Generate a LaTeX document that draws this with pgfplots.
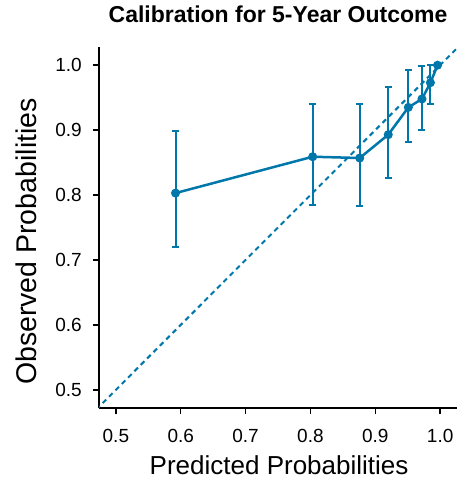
\documentclass[border=0pt]{standalone}
\usepackage{pgfplots}
\pgfplotsset{compat=1.18}
\usepackage{pgfplotstable}
\usepackage{fontspec}
\setmainfont{Liberation Sans}
\definecolor{cblue}{RGB}{0,119,170}
\pgfplotstableread{
x      y      ep     em
0.592  0.803  0.095  0.083
0.8035 0.859  0.081  0.074
0.876  0.857  0.083  0.074
0.920  0.893  0.073  0.066
0.951  0.935  0.057  0.053
0.972  0.948  0.051  0.048
0.985  0.973  0.027  0.033
0.996  1.000  0.000  0.000
}\caldata
\begin{document}
\begin{tikzpicture}
\path[use as bounding box] (-99bp,-78bp) rectangle (360bp,408bp);
\begin{axis}[
  at={(0,0)}, anchor=south west,
  scale only axis, width=358bp, height=361bp,
  xmin=0.474, xmax=1.026, ymin=0.472, ymax=1.028,
  axis x line=bottom, axis y line=left,
  axis line style={-, line width=2bp, black},
  xtick={0.5,0.6,0.7,0.8,0.9,1.0},
  ytick={0.5,0.6,0.7,0.8,0.9,1.0},
  xticklabels={0.5,0.6,0.7,0.8,0.9,1.0},
  yticklabels={0.5,0.6,0.7,0.8,0.9,1.0},
  tick align=outside,
  major tick length=6bp,
  tick style={line width=1.5bp, black},
  minor tick num=0,
  /pgf/number format/assume math mode=true,
  ticklabel style={font=\fontsize{19bp}{22bp}\selectfont},
  xticklabel style={anchor=base, inner sep=0pt, yshift=-28bp},
  yticklabel style={anchor=east, inner sep=0pt, xshift=-11bp},
  title={Calibration for 5-Year Outcome},
  title style={font=\fontsize{23bp}{27bp}\selectfont\bfseries, at={(axis description cs:0.5,1)}, anchor=base, yshift=19bp, inner sep=0pt},
  xlabel={Predicted Probabilities},
  ylabel={Observed Probabilities},
  every axis x label/.style={at={(axis description cs:0.503,0)}, anchor=base, yshift=-66bp, inner sep=0pt, font=\fontsize{26bp}{30bp}\selectfont},
  every axis y label/.style={at={(axis description cs:-0.204,0.461)}, rotate=90, anchor=center, inner sep=0pt, font=\fontsize{28.5bp}{32bp}\selectfont},
]
\addplot[cblue, line width=2bp, dash pattern=on 5bp off 4bp] coordinates {(0.46,0.46) (1.04,1.04)};
\addplot[cblue, line width=2.5bp, mark=*, mark size=3.2bp,
  error bars/.cd, y dir=both, y explicit,
  error bar style={cblue, line width=2bp, solid},
  error mark options={cblue, rotate=90, mark size=3.5bp, line width=2bp}]
  table[x=x, y=y, y error plus=ep, y error minus=em] {\caldata};
\end{axis}
\end{tikzpicture}
\end{document}
